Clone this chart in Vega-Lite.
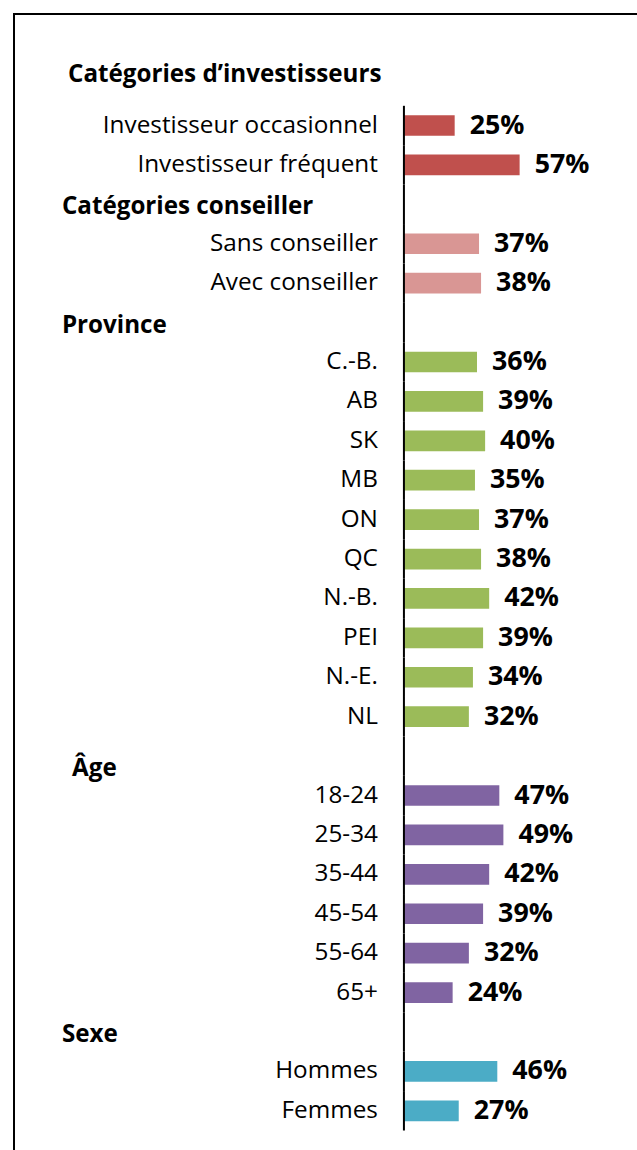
{
  "$schema": "https://vega.github.io/schema/vega-lite/v6.json",
  "autosize": {"type": "none"},
  "padding": {"left": 14, "top": 14, "right": 0, "bottom": 0},
  "width": 640,
  "height": 1150,
  "background": "white",
  "config": {"view": {"stroke": "#000000", "strokeWidth": 2}},
  "data": {"values": [
    {"label": "Catégories d’investisseurs", "group": "h1", "value": null},
    {"label": "Investisseur occasionnel", "group": "inv", "value": 0.25},
    {"label": "Investisseur fréquent", "group": "inv", "value": 0.57},
    {"label": "Catégories conseiller", "group": "h", "value": null},
    {"label": "Sans conseiller", "group": "cons", "value": 0.37},
    {"label": "Avec conseiller", "group": "cons", "value": 0.38},
    {"label": "Province", "group": "h", "value": null},
    {"label": "C.-B.", "group": "prov", "value": 0.36},
    {"label": "AB", "group": "prov", "value": 0.39},
    {"label": "SK", "group": "prov", "value": 0.40},
    {"label": "MB", "group": "prov", "value": 0.35},
    {"label": "ON", "group": "prov", "value": 0.37},
    {"label": "QC", "group": "prov", "value": 0.38},
    {"label": "N.-B.", "group": "prov", "value": 0.42},
    {"label": "PEI", "group": "prov", "value": 0.39},
    {"label": "N.-E.", "group": "prov", "value": 0.34},
    {"label": "NL", "group": "prov", "value": 0.32},
    {"label": "Âge", "group": "h2", "value": null},
    {"label": "18-24", "group": "age", "value": 0.47},
    {"label": "25-34", "group": "age", "value": 0.49},
    {"label": "35-44", "group": "age", "value": 0.42},
    {"label": "45-54", "group": "age", "value": 0.39},
    {"label": "55-64", "group": "age", "value": 0.32},
    {"label": "65+", "group": "age", "value": 0.24},
    {"label": "Sexe", "group": "h", "value": null},
    {"label": "Hommes", "group": "sexe", "value": 0.46},
    {"label": "Femmes", "group": "sexe", "value": 0.27}
  ]},
  "encoding": {
    "y": {"field": "label", "type": "nominal", "axis": null,
          "scale": {"domain": ["Catégories d’investisseurs", "Investisseur occasionnel", "Investisseur fréquent", "Catégories conseiller", "Sans conseiller", "Avec conseiller", "Province", "C.-B.", "AB", "SK", "MB", "ON", "QC", "N.-B.", "PEI", "N.-E.", "NL", "Âge", "18-24", "25-34", "35-44", "45-54", "55-64", "65+", "Sexe", "Hommes", "Femmes"],
                    "range": [52.4, 1116.5], "paddingInner": 0, "paddingOuter": 0}}
  },
  "layer": [
    {
      "transform": [{"filter": "datum.value != null"}],
      "mark": {"type": "bar", "height": {"band": 0.525}},
      "encoding": {
        "x": {"field": "value", "type": "quantitative", "axis": null,
              "scale": {"domain": [-1.921, 1.232], "nice": false, "zero": false}},
        "color": {"field": "group", "type": "nominal", "legend": null,
                  "scale": {"domain": ["inv", "cons", "prov", "age", "sexe"],
                            "range": ["#C0504D", "#D99694", "#9BBB59", "#8064A2", "#4BACC6"]}}
      }
    },
    {
      "transform": [{"filter": "datum.group != 'h1'"}],
      "mark": {"type": "rule", "color": "#000000", "strokeWidth": 2},
      "encoding": {
        "x": {"datum": 0, "type": "quantitative"},
        "y": {"field": "label", "type": "nominal", "bandPosition": 0},
        "y2": {"field": "label", "bandPosition": 1}
      }
    },
    {
      "transform": [{"filter": "datum.value != null"}],
      "mark": {"type": "text", "align": "right", "baseline": "middle", "dx": -26, "font": "Open Sans", "fontSize": 24.3, "color": "#000000"},
      "encoding": {
        "x": {"datum": 0, "type": "quantitative"},
        "text": {"field": "label"}
      }
    },
    {
      "transform": [{"filter": "datum.group == 'h1'"}],
      "mark": {"type": "text", "align": "left", "baseline": "middle", "dy": -11, "font": "Open Sans", "fontWeight": "bold", "fontSize": 24.2, "color": "#000000"},
      "encoding": {
        "x": {"datum": -1.655, "type": "quantitative"},
        "text": {"field": "label"}
      }
    },
    {
      "transform": [{"filter": "datum.group == 'h'"}],
      "mark": {"type": "text", "align": "left", "baseline": "middle", "dy": 3, "font": "Open Sans", "fontWeight": "bold", "fontSize": 24.2, "color": "#000000"},
      "encoding": {
        "x": {"datum": -1.685, "type": "quantitative"},
        "text": {"field": "label"}
      }
    },
    {
      "transform": [{"filter": "datum.group == 'h2'"}],
      "mark": {"type": "text", "align": "left", "baseline": "middle", "dy": 13, "font": "Open Sans", "fontWeight": "bold", "fontSize": 24.2, "color": "#000000"},
      "encoding": {
        "x": {"datum": -1.635, "type": "quantitative"},
        "text": {"field": "label"}
      }
    },
    {
      "transform": [{"filter": "datum.value != null"}],
      "mark": {"type": "text", "align": "left", "baseline": "middle", "dx": 15, "font": "Open Sans", "fontWeight": "bold", "fontSize": 26.8, "color": "#000000"},
      "encoding": {
        "x": {"field": "value", "type": "quantitative"},
        "text": {"field": "value", "type": "quantitative", "format": ".0%"}
      }
    }
  ]
}
